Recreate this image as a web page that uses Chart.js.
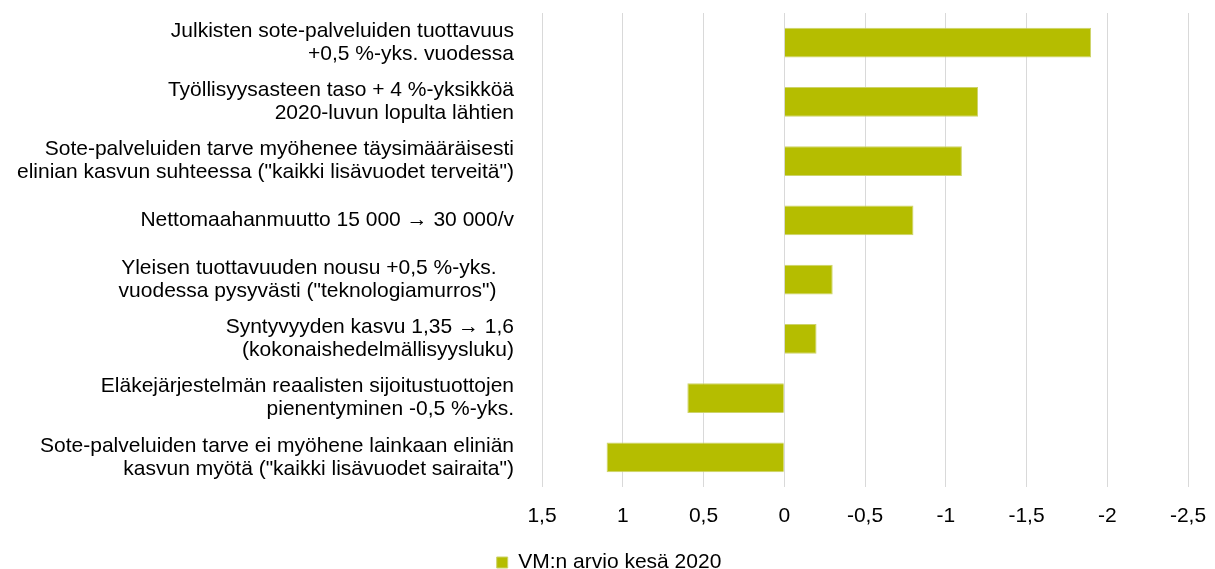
<!DOCTYPE html>
<html lang="fi">
<head>
<meta charset="utf-8">
<title>Herkkyyslaskelmat</title>
<script src="https://cdn.jsdelivr.net/npm/chart.js@4.4.1/dist/chart.umd.min.js"></script>
<style>
  html, body { margin: 0; padding: 0; background: #fff; }
  #wrap { width: 1215px; height: 569px; }
</style>
</head>
<body>
<div id="wrap"><canvas id="chart" width="1215" height="569"></canvas></div>
<script>
// scenario labels, top to bottom (each entry = lines of the label)
const scenarios = [
  ["Julkisten sote-palveluiden tuottavuus", "+0,5 %-yks. vuodessa"],
  ["Työllisyysasteen taso + 4 %-yksikköä", "2020-luvun lopulta lähtien"],
  ["Sote-palveluiden tarve myöhenee täysimääräisesti", "elinian kasvun suhteessa (\"kaikki lisävuodet terveitä\")"],
  "Nettomaahanmuutto 15 000 \u2192 30 000/v",
  ["Yleisen tuottavuuden nousu +0,5 %-yks.   ", "vuodessa pysyvästi (\"teknologiamurros\")   "],
  ["Syntyvyyden kasvu 1,35 \u2192 1,6", "(kokonaishedelmällisyysluku)"],
  ["Eläkejärjestelmän reaalisten sijoitustuottojen", "pienentyminen -0,5 %-yks."],
  ["Sote-palveluiden tarve ei myöhene lainkaan eliniän", "kasvun myötä (\"kaikki lisävuodet sairaita\")"]
];

// VM:n arvio kesä 2020
const vmEstimate = [-1.9, -1.2, -1.1, -0.8, -0.3, -0.2, 0.6, 1.1];

const seriesName = "VM:n arvio kesä 2020";

// x axis runs from 1,5 (left) to -2,5 (right)
const xTicks = [1.5, 1, 0.5, 0, -0.5, -1, -1.5, -2, -2.5];

Chart.defaults.font.family = "'Liberation Sans', Arial, sans-serif";
Chart.defaults.font.size = 21;
Chart.defaults.color = "#000";

// nudge the legend a bit right, like in the original
const legendShift = {
  id: "legendShift",
  afterLayout(chart) {
    chart.legend.left += 15;
    chart.legend.right += 15;
  }
};

const ctx = document.getElementById("chart").getContext("2d");
new Chart(ctx, {
  type: "bar",
  data: {
    labels: scenarios,
    datasets: [{
      label: seriesName,
      data: vmEstimate,
      backgroundColor: "#B5BD00",
      borderColor: "#cdd36a",
      borderWidth: 1,
      barPercentage: 0.5,
      categoryPercentage: 1
    }]
  },
  options: {
    indexAxis: "y",
    responsive: false,
    devicePixelRatio: 1,
    animation: false,
    layout: { padding: { top: 13, right: 27, left: 0, bottom: -14 } },
    plugins: {
      legend: {
        position: "bottom",
        labels: { boxWidth: 11, boxHeight: 11, padding: 10, color: "#000" }
      },
      tooltip: { enabled: false }
    },
    scales: {
      x: {
        reverse: true,
        min: Math.min(...xTicks),
        max: Math.max(...xTicks),
        afterBuildTicks: s => { s.ticks = xTicks.map(v => ({ value: v })); },
        afterFit: s => {
          s.height = 55;
          s.paddingLeft = 0;
          s.paddingRight = 0;
        },
        ticks: {
          padding: 17,
          callback: v => String(v).replace(".", ",")
        },
        grid: { color: "#d9d9d9", lineWidth: 1, drawTicks: false },
        border: { display: false }
      },
      y: {
        afterFit: s => {
          s.width = 542;
          s.paddingTop = 0;
          s.paddingBottom = 0;
        },
        ticks: {
          padding: 28,
          font: { size: 21, lineHeight: 1.1 }
        },
        grid: { display: false, drawTicks: false },
        border: { display: false }
      }
    }
  },
  plugins: [legendShift]
});
</script>
</body>
</html>
